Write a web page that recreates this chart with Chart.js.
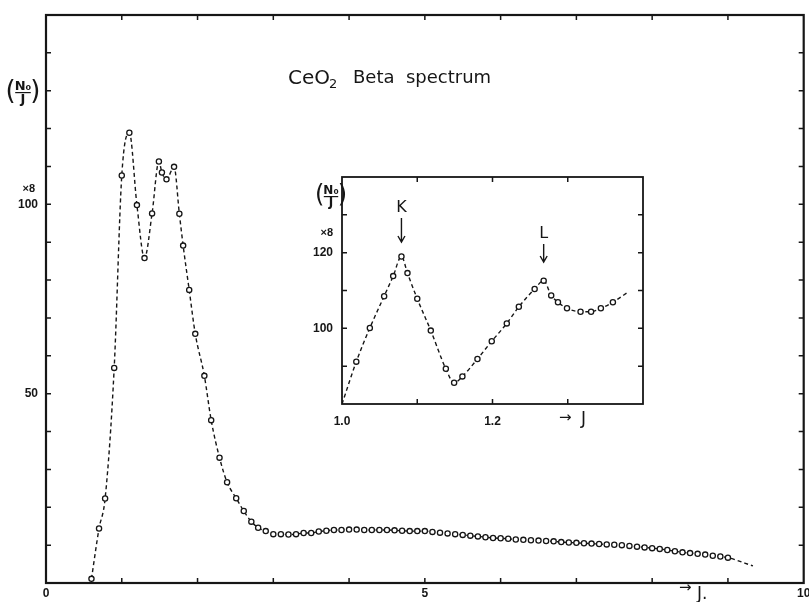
<!DOCTYPE html>
<html>
<head>
<meta charset="utf-8">
<script src="https://cdn.jsdelivr.net/npm/chart.js@4.4.1/dist/chart.umd.min.js"></script>
<style>
  html, body { margin: 0; padding: 0; background: #fff; }
  #wrap { position: relative; width: 809px; height: 602px; background: #fff; overflow: hidden; }
  #main { position: absolute; left: 0; top: 0; }
  #inset { position: absolute; left: 300px; top: 160px; }
</style>
</head>
<body>
<div id="wrap">
  <canvas id="main" width="809" height="602"></canvas>
  <canvas id="inset" width="360" height="275"></canvas>
</div>
<script>
// CeO2 beta spectrum (N0/J x8 against J)
const mainJ = [0.6, 0.7, 0.78, 0.9, 1.0, 1.1, 1.2, 1.3, 1.4, 1.49, 1.53, 1.59, 1.69, 1.76, 1.81,
  1.89, 1.97, 2.09, 2.18, 2.29, 2.39, 2.51, 2.61, 2.71, 2.8, 2.9,
  3.0, 3.1, 3.2, 3.3, 3.4, 3.5, 3.6, 3.7, 3.8, 3.9, 4.0, 4.1, 4.2, 4.3, 4.4, 4.5, 4.6, 4.7, 4.8, 4.9, 5.0,
  5.1, 5.2, 5.3, 5.4, 5.5, 5.6, 5.7, 5.8, 5.9, 6.0, 6.1, 6.2, 6.3, 6.4, 6.5, 6.6, 6.7, 6.8, 6.9, 7.0,
  7.1, 7.2, 7.3, 7.4, 7.5, 7.6, 7.7, 7.8, 7.9, 8.0, 8.1, 8.2, 8.3, 8.4, 8.5, 8.6, 8.7, 8.8, 8.9, 9.0, 9.33];
const mainN = [1.1, 14.4, 22.3, 56.8, 107.6, 118.9, 99.8, 85.8, 97.6, 111.3, 108.4, 106.6, 109.9, 97.5, 89.1,
  77.4, 65.8, 54.7, 43.0, 33.1, 26.6, 22.4, 19.0, 16.2, 14.6, 13.7,
  12.9, 12.9, 12.8, 12.9, 13.2, 13.2, 13.6, 13.8, 14.0, 14.0, 14.1, 14.1, 14.0, 14.0, 14.0, 14.0, 13.9, 13.8, 13.7, 13.7, 13.7,
  13.5, 13.3, 13.1, 12.9, 12.7, 12.5, 12.3, 12.1, 11.9, 11.8, 11.7, 11.5, 11.4, 11.3, 11.2, 11.1, 11.0, 10.8, 10.7, 10.6,
  10.5, 10.4, 10.3, 10.2, 10.1, 10.0, 9.8, 9.6, 9.4, 9.2, 9.0, 8.7, 8.4, 8.1, 7.9, 7.7, 7.5, 7.2, 7.0, 6.7, 4.5];

// inset: K and L conversion lines
const insetJ = [1.0, 1.019, 1.037, 1.056, 1.068, 1.079, 1.087, 1.1, 1.118, 1.138, 1.149, 1.16, 1.18, 1.199,
  1.219, 1.235, 1.256, 1.268, 1.278, 1.287, 1.299, 1.317, 1.331, 1.344, 1.36, 1.381];
const insetN = [80, 91.2, 100.1, 108.5, 113.8, 119.0, 114.6, 107.8, 99.4, 89.3, 85.6, 87.3, 91.9, 96.6,
  101.3, 105.7, 110.4, 112.6, 108.7, 106.9, 105.3, 104.4, 104.4, 105.3, 106.9, 109.7];

const mainXLabels = [0, 5, 10];
const mainYLabels = [50, 100];
const insetXLabels = ['1.0', '1.2'];
const insetYLabels = [100, 120];

const INK = '#161616';
const numFont = { family: 'Liberation Sans', size: 12, weight: 'bold' };

// box round the plot area with little ticks pointing inwards (top/bottom/left/right)
const framePlugin = {
  id: 'frame',
  afterDatasetsDraw(chart, args, opts) {
    const { ctx, chartArea: a, scales } = chart;
    const L = opts.tickLen;
    ctx.save();
    ctx.strokeStyle = INK;
    ctx.lineWidth = opts.lineWidth;
    ctx.strokeRect(a.left, a.top, a.right - a.left, a.bottom - a.top);
    ctx.lineWidth = 1.5;
    ctx.beginPath();
    scales.x.ticks.forEach(t => {
      const px = scales.x.getPixelForValue(t.value);
      if (px <= a.left + 2 || px >= a.right - 2) return;
      ctx.moveTo(px, a.bottom); ctx.lineTo(px, a.bottom - L);
      ctx.moveTo(px, a.top); ctx.lineTo(px, a.top + L);
    });
    scales.y.ticks.forEach(t => {
      const py = scales.y.getPixelForValue(t.value);
      if (py <= a.top + 2 || py >= a.bottom - 2) return;
      ctx.moveTo(a.left, py); ctx.lineTo(a.left + L, py);
      ctx.moveTo(a.right, py); ctx.lineTo(a.right - L, py);
    });
    ctx.stroke();
    ctx.restore();
  }
};

// (N0 / J) written as a fraction in brackets
function drawFrac(ctx, x, y, size) {
  ctx.save();
  ctx.fillStyle = INK;
  ctx.textAlign = 'center';
  ctx.font = 'bold ' + size + 'px "DejaVu Sans"';
  ctx.textBaseline = 'bottom';
  ctx.fillText('N₀', x, y + 1);
  ctx.textBaseline = 'top';
  ctx.fillText('J', x, y + 1);
  ctx.fillRect(x - size * 0.6, y, size * 1.2, 1.2);
  ctx.font = Math.round(size * 2) + 'px "DejaVu Sans"';
  ctx.textBaseline = 'middle';
  ctx.fillText('(', x - size * 0.95, y);
  ctx.fillText(')', x + size * 0.95, y);
  ctx.restore();
}

const mainNotes = {
  id: 'mainNotes',
  afterDraw(chart) {
    const ctx = chart.ctx;
    ctx.save();
    ctx.fillStyle = INK;
    ctx.textBaseline = 'alphabetic';
    ctx.textAlign = 'left';
    ctx.font = '20px "DejaVu Sans"';
    ctx.fillText('CeO', 288, 84);
    ctx.font = '13px "DejaVu Sans"';
    ctx.fillText('2', 329, 88);
    ctx.font = '18px "DejaVu Sans"';
    ctx.fillText('Beta  spectrum', 353, 83);
    ctx.font = 'bold 11px "Liberation Sans"';
    ctx.textAlign = 'right';
    ctx.fillText('×8', 35, 192);
    ctx.textAlign = 'left';
    ctx.font = '15px "DejaVu Sans"';
    ctx.fillText('→', 679, 592);
    ctx.font = '17px "DejaVu Sans"';
    ctx.fillText('J.', 697, 599);
    ctx.restore();
    drawFrac(ctx, 23, 92, 13);
  }
};

const insetNotes = {
  id: 'insetNotes',
  afterDraw(chart) {
    const ctx = chart.ctx;
    const x = chart.scales.x;
    ctx.save();
    ctx.fillStyle = INK;
    ctx.strokeStyle = INK;
    ctx.lineWidth = 1.4;
    ctx.textAlign = 'center';
    ctx.textBaseline = 'alphabetic';
    // K and L markers above the peaks
    const kx = x.getPixelForValue(insetJ[5]);
    const lx = x.getPixelForValue(insetJ[17]);
    ctx.font = '16px "DejaVu Sans"';
    ctx.fillText('K', kx, 52);
    ctx.fillText('L', lx, 78);
    [[kx, 58, 82], [lx, 84, 102]].forEach(([ax, y0, y1]) => {
      ctx.beginPath();
      ctx.moveTo(ax, y0); ctx.lineTo(ax, y1);
      ctx.moveTo(ax - 3.5, y1 - 6); ctx.lineTo(ax, y1); ctx.lineTo(ax + 3.5, y1 - 6);
      ctx.stroke();
    });
    ctx.font = 'bold 11px "Liberation Sans"';
    ctx.textAlign = 'right';
    ctx.fillText('×8', 33, 76);
    ctx.textAlign = 'left';
    ctx.font = '15px "DejaVu Sans"';
    ctx.fillText('→', 259, 262);
    ctx.font = '17px "DejaVu Sans"';
    ctx.fillText('J', 281, 264);
    ctx.restore();
    drawFrac(ctx, 31, 36, 12);
  }
};

function lineSet(xs, ys, radii) {
  return {
    data: xs.map((j, i) => ({ x: j, y: ys[i] })),
    borderColor: INK,
    borderWidth: 1.4,
    borderDash: [4, 3],
    cubicInterpolationMode: 'monotone',
    pointRadius: radii,
    pointBorderWidth: 1.3,
    pointBorderColor: INK,
    pointBackgroundColor: '#fff',
    fill: false
  };
}

function baseScales(xmin, xmax, xstep, ymin, ymax, ystep, xlab, ylab, xh, yw, xpad, ypad) {
  return {
    x: {
      type: 'linear', min: xmin, max: xmax,
      grid: { display: false, drawTicks: false }, border: { display: false },
      ticks: {
        stepSize: xstep, autoSkip: false, maxRotation: 0, padding: xpad, color: INK, font: numFont,
        callback: v => {
          const hit = xlab.find(l => Math.abs(Number(l) - v) < 1e-6);
          return hit === undefined ? '' : String(hit);
        }
      },
      afterFit: s => { s.height = xh; s.paddingLeft = 0; s.paddingRight = 0; }
    },
    y: {
      min: ymin, max: ymax,
      grid: { display: false, drawTicks: false }, border: { display: false },
      ticks: {
        stepSize: ystep, autoSkip: false, padding: ypad, color: INK, font: numFont,
        callback: v => ylab.includes(v) ? String(v) : ''
      },
      afterFit: s => { s.width = yw; s.paddingTop = 0; s.paddingBottom = 0; }
    }
  };
}

new Chart(document.getElementById('main'), {
  type: 'line',
  data: { datasets: [lineSet(mainJ, mainN, mainJ.map((j, i) => i === mainJ.length - 1 ? 0 : 2.6))] },
  options: {
    responsive: false,
    animation: false,
    layout: { padding: { top: 15, right: 5, left: 0, bottom: 0 } },
    plugins: { legend: { display: false }, tooltip: { enabled: false }, frame: { lineWidth: 2.2, tickLen: 5 } },
    scales: baseScales(0, 10, 1, 0, 150, 10, mainXLabels, mainYLabels, 19, 46, 3, 8)
  },
  plugins: [framePlugin, mainNotes]
});

new Chart(document.getElementById('inset'), {
  type: 'line',
  data: { datasets: [lineSet(insetJ, insetN, insetJ.map((j, i) => (i === 0 || i === insetJ.length - 1) ? 0 : 2.6))] },
  options: {
    responsive: false,
    animation: false,
    layout: { padding: { top: 17, right: 17, left: 0, bottom: 0 } },
    plugins: { legend: { display: false }, tooltip: { enabled: false }, frame: { lineWidth: 1.8, tickLen: 5 } },
    scales: baseScales(1.0, 1.4, 0.1, 80, 140, 10, insetXLabels, insetYLabels, 31, 42, 10, 9)
  },
  plugins: [framePlugin, insetNotes]
});
</script>
</body>
</html>
